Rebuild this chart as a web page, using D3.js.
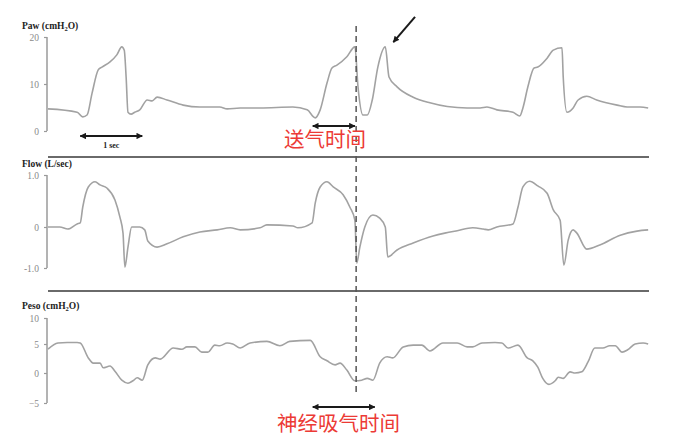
<!DOCTYPE html>
<html><head><meta charset="utf-8">
<script src="https://cdn.jsdelivr.net/npm/d3@7"></script>
<style>html,body{margin:0;padding:0;background:#fff;}svg{display:block;}</style>
</head><body>
<script>
// time in seconds
const pawT = [0.00,0.47,0.56,0.63,0.71,0.81,0.87,1.00,1.11,1.19,1.23,1.26,1.29,1.34,1.40,1.48,1.60,1.68,1.76,1.92,2.18,2.45,2.77,2.89,3.10,3.42,3.95,4.18,4.31,4.39,4.50,4.58,4.66,4.82,4.95,5.00,5.08,5.15,5.23,5.32,5.44,5.50,5.63,5.89,6.16,6.44,6.76,6.97,7.08,7.24,7.50,7.61,7.66,7.74,7.84,7.90,8.05,8.15,8.29,8.31,8.37,8.47,8.55,8.69,8.85,9.18,9.34,9.55,9.68];
const pawV = [4.7,4.0,3.0,3.4,8.0,13.0,13.6,14.7,16.2,17.9,17.2,11.5,4.0,3.6,4.0,4.5,6.6,6.4,7.2,6.6,5.5,5.1,5.1,4.7,4.9,4.9,5.1,4.5,2.8,4.5,10.2,13.4,14.0,15.8,17.9,9.4,3.4,3.4,6.6,13.6,17.9,11.5,9.4,7.2,6.0,5.2,4.9,4.9,5.1,4.5,4.0,3.2,4.9,9.4,13.4,13.6,15.5,17.2,17.7,11.5,4.0,4.9,6.6,7.4,6.6,5.5,5.1,5.1,4.9];

const flowT = [0.00,0.19,0.32,0.47,0.52,0.56,0.65,0.76,0.84,0.95,1.08,1.16,1.21,1.24,1.29,1.35,1.48,1.56,1.61,1.76,1.92,2.18,2.45,2.73,2.94,3.10,3.42,3.53,3.95,4.03,4.26,4.31,4.39,4.50,4.60,4.76,4.87,4.95,4.98,5.03,5.11,5.24,5.35,5.44,5.48,5.63,5.89,6.21,6.40,6.60,6.85,7.02,7.10,7.24,7.50,7.58,7.66,7.77,7.90,8.05,8.15,8.26,8.32,8.39,8.47,8.53,8.69,8.90,9.23,9.50,9.68];
const flowV = [0,0,-0.05,0.06,0.08,0.38,0.77,0.87,0.81,0.75,0.52,0.19,-0.15,-0.98,-0.49,0,0,-0.07,-0.34,-0.49,-0.41,-0.24,-0.12,-0.07,-0.02,-0.07,-0.02,0.04,0.02,-0.02,0.08,0.46,0.77,0.87,0.77,0.62,0.38,0.13,-0.88,-0.49,0,0.23,0.17,0,-0.73,-0.56,-0.39,-0.22,-0.15,-0.09,-0.02,-0.05,-0.07,0,0.06,0.38,0.77,0.88,0.79,0.65,0.33,0.13,-0.93,-0.32,-0.07,-0.15,-0.54,-0.44,-0.20,-0.10,-0.07];

const pesoT = [0.00,0.16,0.31,0.47,0.52,0.65,0.73,0.84,0.89,1.00,1.08,1.19,1.29,1.37,1.44,1.52,1.61,1.73,1.81,2.02,2.16,2.24,2.37,2.48,2.58,2.69,2.77,2.89,2.98,3.10,3.26,3.53,3.74,3.90,4.23,4.39,4.50,4.63,4.71,4.82,4.95,5.06,5.15,5.24,5.35,5.47,5.56,5.73,5.89,6.03,6.16,6.37,6.60,6.76,6.85,7.00,7.21,7.32,7.42,7.58,7.73,7.82,7.90,7.98,8.08,8.18,8.23,8.31,8.42,8.50,8.61,8.71,8.82,8.95,9.06,9.15,9.26,9.35,9.47,9.60,9.68];
const pesoV = [4.1,5.2,5.3,5.3,5.2,2.6,1.7,1.7,0.9,1.2,0.3,-1.2,-1.7,-1.3,-0.8,-1.2,1.4,2.6,2.4,4.3,4.1,4.5,4.5,3.6,3.6,4.8,4.7,5.2,5.0,4.3,5.2,5.5,4.7,5.5,5.7,2.8,2.1,1.4,1.7,0.5,-1.3,-1.2,-0.9,-1.2,1.7,2.8,2.6,4.5,4.8,4.8,3.8,5.2,5.2,4.5,4.5,5.2,5.3,5.2,4.3,4.8,2.6,2.1,1.0,-0.9,-1.9,-1.3,-0.7,-0.9,0.2,0,0.2,1.9,4.3,4.3,4.7,4.7,3.6,4.0,5.0,5.2,5.0];

const pawTicks = [0, 10, 20];
const flowTicks = [-1.0, 0, 1.0];
const flowTickLabels = ["-1.0", "0", "1.0"];
const pesoTicks = [-5, 0, 5, 10];

const oneSec = [0.52, 1.52];
const ventTime = [4.27, 4.95];
const neuralTime = [4.27, 5.27];
const markerT = 4.97;
const pointerFrom = [5.92, 24.3];
const pointerTo = [5.57, 18.9];

const W = 685, H = 439;
const svg = d3.select("body").append("svg").attr("width", W).attr("height", H);
const defs = svg.append("defs");
defs.append("marker").attr("id","ah").attr("viewBox","0 0 10 10").attr("refX",9).attr("refY",5)
  .attr("markerWidth",3.2).attr("markerHeight",3.2).attr("orient","auto-start-reverse")
  .append("path").attr("d","M0,0 L10,5 L0,10 z").attr("fill","#1a1a1a");

const x = d3.scaleLinear().domain([0, 9.7]).range([48, 649.4]);
const yPaw = d3.scaleLinear().domain([0, 20]).range([131, 37]);
const yFlow = d3.scaleLinear().domain([-1, 0, 1]).range([268, 227, 175]);
const yPeso = d3.scaleLinear().domain([-5, 0, 5, 10]).range([403, 373, 344, 318]);

const serif = "'Liberation Serif','DejaVu Serif',serif";

function panel(y, ticks, labels, title, T, V, titleY) {
  const ax = svg.append("g").attr("transform", "translate(47,0)")
    .call(d3.axisLeft(y).tickValues(ticks).tickSize(3).tickPadding(5)
      .tickFormat((d,i) => labels ? labels[i] : d3.format("d")(d)));
  ax.select(".domain").attr("stroke", "#9a9a9a").attr("stroke-width", 1.5)
    .attr("d", `M0,${y(d3.max(ticks))}V${y(d3.min(ticks))}`);
  ax.selectAll(".tick line").attr("stroke", "#9a9a9a").attr("stroke-width", 1.2);
  ax.selectAll(".tick text").attr("fill", "#8a8a8a").attr("font-family", serif).attr("font-size", 9.5);
  const t = svg.append("text").attr("x", 22).attr("y", titleY).attr("font-family", serif)
    .attr("font-weight", "bold").attr("font-size", 9.5).attr("fill", "#222");
  t.append("tspan").text(title[0]);
  if (title.length > 1) {
    t.append("tspan").attr("font-size", 6.5).attr("dy", 1.5).text(title[1]);
    t.append("tspan").attr("dy", -1.5).text(title[2]);
  }
  const data = T.map((d, i) => [d, V[i]]);
  svg.append("path").datum(data).attr("fill", "none").attr("stroke", "#a2a2a2")
    .attr("stroke-width", 1.6).attr("stroke-linejoin", "round")
    .attr("d", d3.line().curve(d3.curveMonotoneX).x(d => x(d[0])).y(d => y(d[1])));
}

panel(yPaw, pawTicks, null, ["Paw (cmH", "2", "O)"], pawT, pawV, 29);
panel(yFlow, flowTicks, flowTickLabels, ["Flow (L/sec)"], flowT, flowV, 167);
panel(yPeso, pesoTicks, null, ["Peso (cmH", "2", "O)"], pesoT, pesoV, 309);

// separator lines
[157, 291].forEach(yy => {
  svg.append("line").attr("x1", 48).attr("x2", 649).attr("y1", yy).attr("y2", yy)
    .attr("stroke", "#6a6a6a").attr("stroke-width", 1.8);
});

// dashed marker
svg.append("line").attr("x1", x(markerT)).attr("x2", x(markerT)).attr("y1", 26).attr("y2", 392)
  .attr("stroke", "#555").attr("stroke-width", 1.5).attr("stroke-dasharray", "6,4");

function dbl(t0, t1, yy) {
  svg.append("line").attr("x1", x(t0)).attr("x2", x(t1)).attr("y1", yy).attr("y2", yy)
    .attr("stroke", "#1a1a1a").attr("stroke-width", 2)
    .attr("marker-start", "url(#ah)").attr("marker-end", "url(#ah)");
}
dbl(oneSec[0], oneSec[1], 136);
svg.append("text").attr("x", x((oneSec[0]+oneSec[1])/2)).attr("y", 148).attr("text-anchor","middle")
  .attr("font-family", serif).attr("font-weight","bold").attr("font-size", 8).attr("fill","#222").text("1 sec");

dbl(ventTime[0], ventTime[1], 126);
svg.append("text").attr("x", 325).attr("y", 147).attr("text-anchor","middle")
  .attr("font-family","'Noto Sans CJK SC',sans-serif").attr("font-size", 20.5).attr("fill","#ec3a35").text("送气时间");

dbl(neuralTime[0], neuralTime[1], 407);
svg.append("text").attr("x", 338.5).attr("y", 431).attr("text-anchor","middle")
  .attr("font-family","'Noto Sans CJK SC',sans-serif").attr("font-size", 20.5).attr("fill","#ec3a35").text("神经吸气时间");

svg.append("line").attr("x1", x(pointerFrom[0])).attr("y1", yPaw(pointerFrom[1]))
  .attr("x2", x(pointerTo[0])).attr("y2", yPaw(pointerTo[1]))
  .attr("stroke", "#1a1a1a").attr("stroke-width", 2).attr("marker-end", "url(#ah)");
</script>
</body></html>
